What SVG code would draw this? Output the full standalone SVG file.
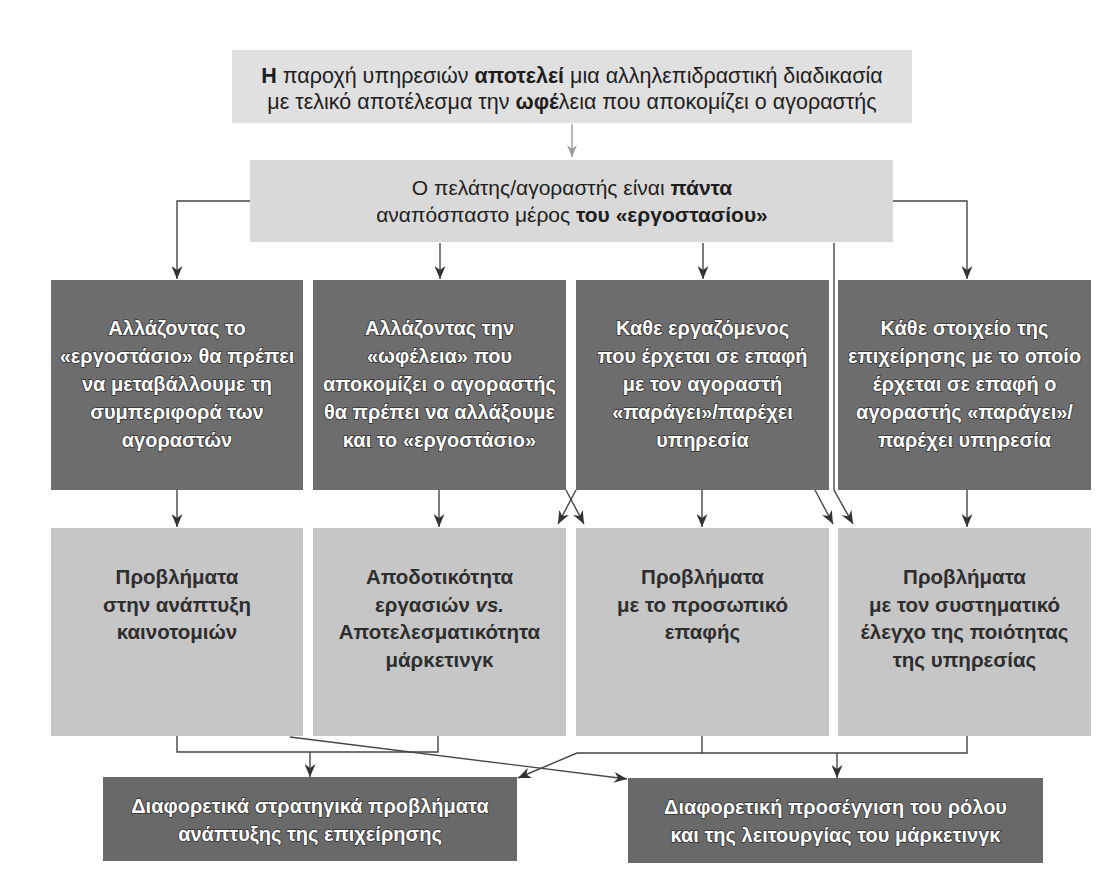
<svg xmlns="http://www.w3.org/2000/svg" width="1112" height="878" viewBox="0 0 1112 878">
<style>
.bg{fill:#ffffff}
.tp{fill:#e0e0e0}
.sc{fill:#d9d9d9}
.dk{fill:#6d6d6d}
.lt{fill:#c6c6c6}
.bt{fill:#696969}
text{font-family:"Liberation Sans",Arial,sans-serif;text-anchor:middle}
.tt{font-size:21.5px;fill:#1e1e1e}
.ts{font-size:21px;fill:#1e1e1e}
.b{font-weight:bold}
.tw{font-size:20px;font-weight:bold;fill:#ffffff;stroke:#333333;stroke-width:1.6px;paint-order:stroke}
.td{font-size:20.5px;font-weight:bold;fill:#2e2e2e}
.ln{fill:none;stroke:#454545;stroke-width:1.4}
.lnl{fill:none;stroke:#8a8a8a;stroke-width:1.2}
</style>
<defs>
<marker id="ah" viewBox="0 0 13 11" refX="13" refY="5.5" markerWidth="13" markerHeight="11" markerUnits="userSpaceOnUse" orient="auto">
<path d="M0,0 L13,5.5 L0,11 L4,5.5 z" fill="#333333"/>
</marker>
<marker id="ahl" viewBox="0 0 12 10" refX="12" refY="5" markerWidth="12" markerHeight="10" markerUnits="userSpaceOnUse" orient="auto">
<path d="M0,0 L12,5 L0,10 L4,5 z" fill="#9a9a9a"/>
</marker>
</defs>
<rect class="bg" x="0" y="0" width="1112" height="878"/>

<g id="connectors">
<path class="lnl" d="M572,124 V157" marker-end="url(#ahl)"/>
<path class="ln" d="M250,201 H177 V279" marker-end="url(#ah)"/>
<path class="ln" d="M440,243 V279" marker-end="url(#ah)"/>
<path class="ln" d="M703,243 V279" marker-end="url(#ah)"/>
<path class="ln" d="M893,201 H967 V279" marker-end="url(#ah)"/>
<path class="ln" d="M834,243 V490 L853,524" marker-end="url(#ah)"/>
<path class="ln" d="M177,490 V527" marker-end="url(#ah)"/>
<path class="ln" d="M439,490 V527" marker-end="url(#ah)"/>
<path class="ln" d="M702,490 V527" marker-end="url(#ah)"/>
<path class="ln" d="M967,490 V527" marker-end="url(#ah)"/>
<path class="ln" d="M566,490 L584,524" marker-end="url(#ah)"/>
<path class="ln" d="M576,490 L558,524" marker-end="url(#ah)"/>
<path class="ln" d="M815,490 L833,524" marker-end="url(#ah)"/>
<path class="ln" d="M177,736 V752 H438 V736"/>
<path class="ln" d="M310,752 V777" marker-end="url(#ah)"/>
<path class="ln" d="M290,737 L627,779" marker-end="url(#ah)"/>
<path class="ln" d="M702,736 V753 H967 V736"/>
<path class="ln" d="M837,753 V778" marker-end="url(#ah)"/>
<path class="ln" d="M702,753 H577 L518,778" marker-end="url(#ah)"/>
</g>

<g id="n-top">
<rect class="tp" x="232" y="50" width="680" height="73"/>
<text class="tt" x="572" y="83"><tspan class="b">Η</tspan> παροχή υπηρεσιών <tspan class="b">αποτελεί</tspan> μια αλληλεπιδραστική διαδικασία</text>
<text class="tt" x="572" y="109">με τελικό αποτέλεσμα την <tspan class="b">ωφέ</tspan>λεια που αποκομίζει ο αγοραστής</text>
</g>

<g id="n-customer">
<rect class="sc" x="250" y="160" width="643" height="82"/>
<text class="ts" x="572" y="195">Ο πελάτης/αγοραστής είναι <tspan class="b">πάντα</tspan></text>
<text class="ts" x="572" y="222">αναπόσπαστο μέρος <tspan class="b">του «εργοστασίου»</tspan></text>
</g>

<g id="n-d1">
<rect class="dk" x="51" y="280" width="252" height="210"/>
<text class="tw" x="177" y="335">Αλλάζοντας το</text>
<text class="tw" x="177" y="363">«εργοστάσιο» θα πρέπει</text>
<text class="tw" x="177" y="391">να μεταβάλλουμε τη</text>
<text class="tw" x="177" y="419">συμπεριφορά των</text>
<text class="tw" x="177" y="447">αγοραστών</text>
</g>

<g id="n-d2">
<rect class="dk" x="313" y="280" width="253" height="210"/>
<text class="tw" x="439.5" y="335">Αλλάζοντας την</text>
<text class="tw" x="439.5" y="363">«ωφέλεια» που</text>
<text class="tw" x="439.5" y="391">αποκομίζει ο αγοραστής</text>
<text class="tw" x="439.5" y="419">θα πρέπει να αλλάξουμε</text>
<text class="tw" x="439.5" y="447">και το «εργοστάσιο»</text>
</g>

<g id="n-d3">
<rect class="dk" x="576" y="280" width="253" height="210"/>
<text class="tw" x="702.5" y="335">Καθε εργαζόμενος</text>
<text class="tw" x="702.5" y="363">που έρχεται σε επαφή</text>
<text class="tw" x="702.5" y="391">με τον αγοραστή</text>
<text class="tw" x="702.5" y="419">«παράγει»/παρέχει</text>
<text class="tw" x="702.5" y="447">υπηρεσία</text>
</g>

<g id="n-d4">
<rect class="dk" x="838" y="280" width="253" height="210"/>
<text class="tw" x="964.5" y="335">Κάθε στοιχείο της</text>
<text class="tw" x="964.5" y="363">επιχείρησης με το οποίο</text>
<text class="tw" x="964.5" y="391">έρχεται σε επαφή ο</text>
<text class="tw" x="964.5" y="419">αγοραστής «παράγει»/</text>
<text class="tw" x="964.5" y="447">παρέχει υπηρεσία</text>
</g>

<g id="n-l1">
<rect class="lt" x="51" y="528" width="252" height="208"/>
<text class="td" x="177" y="584">Προβλήματα</text>
<text class="td" x="177" y="612">στην ανάπτυξη</text>
<text class="td" x="177" y="639">καινοτομιών</text>
</g>

<g id="n-l2">
<rect class="lt" x="313" y="528" width="253" height="208"/>
<text class="td" x="439.5" y="584">Αποδοτικότητα</text>
<text class="td" x="439.5" y="612">εργασιών <tspan font-style="italic">vs.</tspan></text>
<text class="td" x="439.5" y="639">Αποτελεσματικότητα</text>
<text class="td" x="439.5" y="667">μάρκετινγκ</text>
</g>

<g id="n-l3">
<rect class="lt" x="576" y="528" width="253" height="208"/>
<text class="td" x="702.5" y="584">Προβλήματα</text>
<text class="td" x="702.5" y="612">με το προσωπικό</text>
<text class="td" x="702.5" y="639">επαφής</text>
</g>

<g id="n-l4">
<rect class="lt" x="838" y="528" width="253" height="208"/>
<text class="td" x="964.5" y="584">Προβλήματα</text>
<text class="td" x="964.5" y="612">με τον συστηματικό</text>
<text class="td" x="964.5" y="639">έλεγχο της ποιότητας</text>
<text class="td" x="964.5" y="667">της υπηρεσίας</text>
</g>

<g id="n-b1">
<rect class="bt" x="103" y="777" width="414" height="84"/>
<text class="tw" x="310" y="813">Διαφορετικά στρατηγικά προβλήματα</text>
<text class="tw" x="310" y="841">ανάπτυξης της επιχείρησης</text>
</g>

<g id="n-b2">
<rect class="bt" x="628" y="778" width="415" height="85"/>
<text class="tw" x="835.5" y="814">Διαφορετική προσέγγιση του ρόλου</text>
<text class="tw" x="835.5" y="842">και της λειτουργίας του μάρκετινγκ</text>
</g>
</svg>
